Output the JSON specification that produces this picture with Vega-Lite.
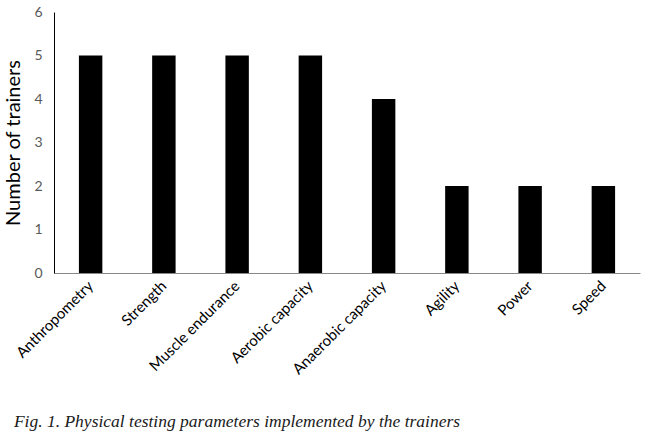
{
  "$schema": "https://vega.github.io/schema/vega-lite/v6.json",
  "width": 586,
  "height": 261,
  "padding": {"left": 3, "top": 5, "right": 6, "bottom": 10},
  "background": "white",
  "config": {"view": {"stroke": null}, "font": "Lato"},
  "title": {
    "text": "Fig. 1. Physical testing parameters implemented by the trainers",
    "orient": "bottom",
    "anchor": "start",
    "frame": "bounds",
    "font": "Liberation Serif",
    "fontStyle": "italic",
    "fontWeight": "normal",
    "fontSize": 17.5,
    "color": "#1a1a1a",
    "offset": 36,
    "dx": 10
  },
  "data": {
    "values": [
      {"parameter": "Anthropometry", "trainers": 5},
      {"parameter": "Strength", "trainers": 5},
      {"parameter": "Muscle endurance", "trainers": 5},
      {"parameter": "Aerobic capacity", "trainers": 5},
      {"parameter": "Anaerobic capacity", "trainers": 4},
      {"parameter": "Agility", "trainers": 2},
      {"parameter": "Power", "trainers": 2},
      {"parameter": "Speed", "trainers": 2}
    ]
  },
  "mark": {"type": "bar", "color": "black"},
  "encoding": {
    "x": {
      "field": "parameter",
      "type": "nominal",
      "sort": null,
      "scale": {"paddingInner": 0.68, "paddingOuter": 0.34},
      "axis": {
        "title": null,
        "labelAngle": -45,
        "labelAlign": "right",
        "labelBaseline": "middle",
        "labelFontSize": 15,
        "labelColor": "black",
        "labelPadding": 10,
        "ticks": false,
        "domainColor": "#888888",
        "domainWidth": 1
      }
    },
    "y": {
      "field": "trainers",
      "type": "quantitative",
      "scale": {"domain": [0, 6]},
      "axis": {
        "title": "Number of trainers",
        "titleFontSize": 20,
        "titleFontWeight": "normal",
        "titleColor": "black",
        "titlePadding": 10,
        "values": [0, 1, 2, 3, 4, 5, 6],
        "labelFontSize": 14,
        "labelColor": "#595959",
        "labelPadding": 12,
        "ticks": false,
        "grid": false,
        "domainColor": "black",
        "domainWidth": 1
      }
    }
  }
}
